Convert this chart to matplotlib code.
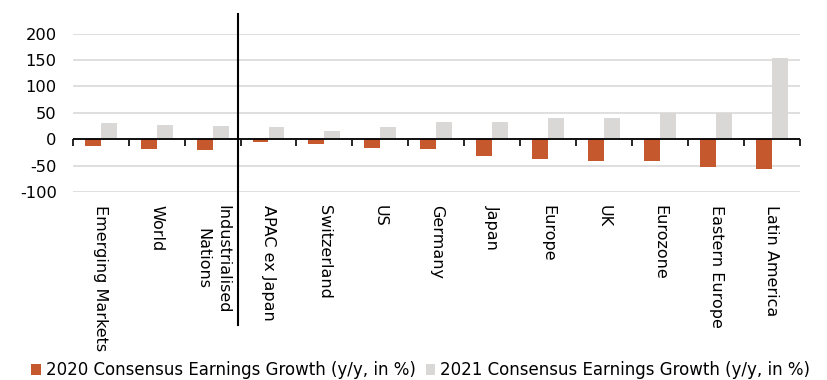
import matplotlib
matplotlib.use("Agg")
import matplotlib.pyplot as plt
import matplotlib.transforms as mtransforms
from matplotlib.patches import Patch
import numpy as np

plt.rcParams['font.family'] = ['DejaVu Sans']
plt.rcParams['axes.unicode_minus'] = False

regions = ["Emerging Markets", "World", "Industrialised\nNations", "APAC ex Japan",
           "Switzerland", "US", "Germany", "Japan", "Europe", "UK", "Eurozone",
           "Eastern Europe", "Latin America"]
growth_2020 = [-12, -19, -21, -5, -9, -17, -19, -32, -38, -41, -42, -53, -57]
growth_2021 = [31, 27, 26, 23, 16, 23, 33, 32, 40, 40, 49, 49, 154]
y_ticks = [-100, -50, 0, 50, 100, 150, 200]
series_names = ["2020 Consensus Earnings Growth (y/y, in %)",
                "2021 Consensus Earnings Growth (y/y, in %)"]

c2020 = "#C5582C"
c2021 = "#D9D8D6"
fs = 11.7

fig = plt.figure(figsize=(8.27, 3.80), dpi=100)
ax = fig.add_axes([0.0879, 0.4947, 0.8794, 0.4166])

x = np.arange(len(regions))
w = 0.285
ax.bar(x - 0.143, growth_2020, width=w, color=c2020, zorder=3)
ax.bar(x + 0.143, growth_2021, width=w, color=c2021, zorder=3)

ax.set_xlim(-0.5, len(regions) - 0.5)
ax.set_ylim(y_ticks[0], y_ticks[-1])
ax.set_yticks(y_ticks)
ax.yaxis.grid(True, color="#D9D9D9", lw=1.2, zorder=0)
ax.set_axisbelow(True)
for s in ax.spines.values():
    s.set_visible(False)
ax.tick_params(axis='y', length=0, pad=11.5, labelsize=fs)

# category labels sit below the plot area, reading downwards
ax.set_xticks(x)
ax.set_xticklabels(regions, rotation=-90, fontsize=11.5, linespacing=1.42)
ax.tick_params(axis='x', length=0, pad=9)

# zero line with category separator ticks
ax.axhline(0, color="black", lw=1.3, zorder=4)
ymin, ymax = ax.get_ylim()
sec = ax.secondary_xaxis((0 - ymin) / (ymax - ymin))
sec.set_xticks(np.arange(len(regions) + 1) - 0.5)
sec.set_xticklabels([])
sec.tick_params(axis='x', length=5, width=1.2, direction='out', color='black')
sec.spines['bottom'].set_visible(False)

# divider between aggregates and individual regions
trans = mtransforms.blended_transform_factory(ax.transData, ax.transAxes)
ax.plot([2.45, 2.45], [1.125, -0.84], color="black", lw=1.5,
        transform=trans, clip_on=False, zorder=5)

handles = [Patch(facecolor=c2020), Patch(facecolor=c2021)]
fig.legend(handles, series_names, loc='center', bbox_to_anchor=(0.5086, 0.026),
           ncol=2, frameon=False, fontsize=12, handlelength=0.57, handleheight=0.6,
           handletextpad=0.3, columnspacing=0.6, borderpad=0)

fig.savefig("out.png", dpi=100)
